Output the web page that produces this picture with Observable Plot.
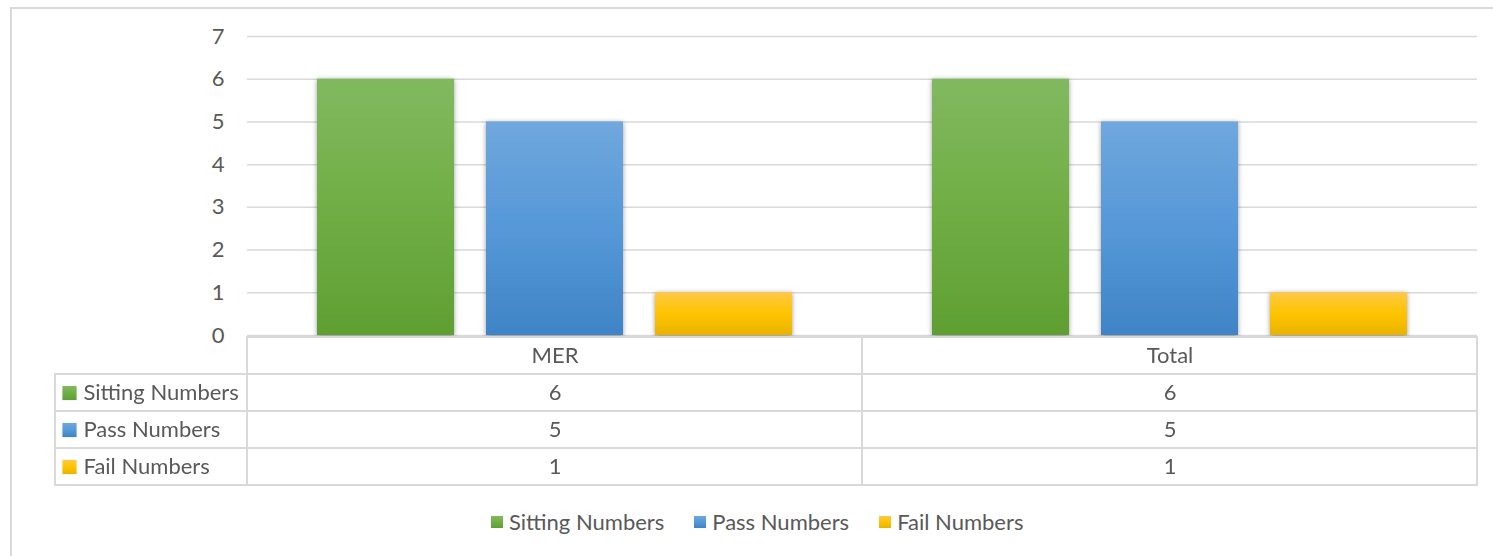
<!DOCTYPE html>
<html>
<head>
<meta charset="utf-8">
<script src="https://cdn.jsdelivr.net/npm/d3@7"></script>
<script src="https://cdn.jsdelivr.net/npm/@observablehq/plot@0.6"></script>
<style>
  html, body { margin: 0; padding: 0; background: #fff; }
  #chart { position: relative; width: 1493px; height: 556px; background: #fff; overflow: hidden; font-family: Lato, "Open Sans", sans-serif; color: #595959; }
  #outer { position: absolute; left: 10px; top: 7px; width: 1500px; height: 600px; border: 2px solid #d9d9d9; box-sizing: border-box; }
  #bars { position: absolute; left: 0; top: 0; }
  #table { position: absolute; left: 0; top: 334px; }
  #legend { position: absolute; left: 491px; top: 505px; }
  .lg-swatch > svg { margin-right: 6px !important; }
  .lg-swatch { margin-right: 30px !important; }
</style>
</head>
<body>
<svg width="0" height="0" style="position:absolute">
  <defs>
    <linearGradient id="g-sit" x1="0" y1="0" x2="0" y2="1">
      <stop offset="0" stop-color="#82b960"/>
      <stop offset="0.5" stop-color="#70ae45"/>
      <stop offset="1" stop-color="#5f9f32"/>
    </linearGradient>
    <linearGradient id="g-pass" x1="0" y1="0" x2="0" y2="1">
      <stop offset="0" stop-color="#70a7dd"/>
      <stop offset="0.5" stop-color="#5698d8"/>
      <stop offset="1" stop-color="#3f84c6"/>
    </linearGradient>
    <linearGradient id="g-fail" x1="0" y1="0" x2="0" y2="1">
      <stop offset="0" stop-color="#ffc846"/>
      <stop offset="0.5" stop-color="#ffc400"/>
      <stop offset="1" stop-color="#e8b200"/>
    </linearGradient>
    <filter id="shadow" x="-20%" y="-20%" width="140%" height="140%">
      <feDropShadow dx="0" dy="1" stdDeviation="2.5" flood-color="#000" flood-opacity="0.4"/>
    </filter>
  </defs>
</svg>
<div id="chart">
  <div id="outer"></div>
  <div id="bars"></div>
  <div id="table"></div>
  <div id="legend"></div>
</div>
<script>
// ---- data ----
const categories = ["MER", "Total"];
const seriesNames = ["Sitting Numbers", "Pass Numbers", "Fail Numbers"];
const sittingNumbers = [6, 6];
const passNumbers = [5, 5];
const failNumbers = [1, 1];
const yTicks = [0, 1, 2, 3, 4, 5, 6, 7];
const seriesFills = ["url(#g-sit)", "url(#g-pass)", "url(#g-fail)"];

const seriesValues = [sittingNumbers, passNumbers, failNumbers];
const rows = categories.flatMap((c, i) =>
  seriesNames.map((s, j) => ({category: c, series: s, value: seriesValues[j][i]}))
);

const FONT = 'Lato, "Open Sans", sans-serif';
const TEXT = "#595959";
const LINE = "#d9d9d9";

// ---- bar chart ----
const bars = Plot.plot({
  width: 1493,
  height: 337,
  marginLeft: 247,
  marginRight: 16,
  marginTop: 36,
  marginBottom: 2,
  style: {fontFamily: FONT, fontSize: "22px", color: TEXT, background: "transparent", overflow: "visible"},
  fx: {domain: categories, padding: 0, axis: null},
  x: {domain: seriesNames, axis: null, paddingInner: 0.188, paddingOuter: 0.403},
  y: {domain: [0, 7], axis: null},
  color: {domain: seriesNames, range: seriesFills},
  marks: [
    Plot.gridY(yTicks, {stroke: LINE, strokeOpacity: 1, strokeWidth: 1.5}),
    Plot.axisY(yTicks, {tickSize: 0, tickPadding: 23, tickFormat: d => String(d), label: null, fill: TEXT, fontSize: 22}),
    Plot.barY(rows, {fx: "category", x: "series", y: "value", fill: "series"})
  ]
});
bars.querySelectorAll('g[aria-label="bar"]').forEach(g => g.setAttribute("filter", "url(#shadow)"));
document.getElementById("bars").appendChild(bars);

// ---- data table ----
const tableRows = ["", ...seriesNames];
const cells = [
  ...categories.map(c => ({category: c, row: "", label: c})),
  ...rows.map(d => ({category: d.category, row: d.series, label: String(d.value)}))
];
const table = Plot.plot({
  width: 1493,
  height: 154,
  marginLeft: 55,
  marginRight: 16,
  marginTop: 1,
  marginBottom: 2,
  style: {fontFamily: FONT, fontSize: "22px", color: TEXT, background: "transparent", overflow: "visible"},
  x: {domain: categories, range: [247, 1477], axis: null, padding: 0},
  y: {domain: tableRows, axis: null, padding: 0},
  color: {domain: seriesNames, range: seriesFills},
  marks: [
    Plot.cell(seriesNames, {y: d => d, fill: "white", stroke: LINE, strokeWidth: 2}),
    Plot.cell(cells, {x: "category", y: "row", fill: "white", stroke: LINE, strokeWidth: 2}),
    Plot.text(cells, {x: "category", y: "row", text: "label", fill: TEXT, fontSize: 22}),
    Plot.dot(seriesNames, {y: d => d, frameAnchor: "left", dx: 14, symbol: "square", r: 8, fill: d => d, stroke: null}),
    Plot.text(seriesNames, {y: d => d, text: d => d, frameAnchor: "left", textAnchor: "start", dx: 28, fill: TEXT, fontSize: 22})
  ]
});
document.getElementById("table").appendChild(table);

// ---- legend ----
const legend = Plot.legend({
  color: {domain: seriesNames, range: seriesFills},
  legend: "swatches",
  swatchSize: 12,
  className: "lg",
  style: {fontFamily: FONT, fontSize: "22px", color: TEXT}
});
document.getElementById("legend").appendChild(legend);
</script>
</body>
</html>
